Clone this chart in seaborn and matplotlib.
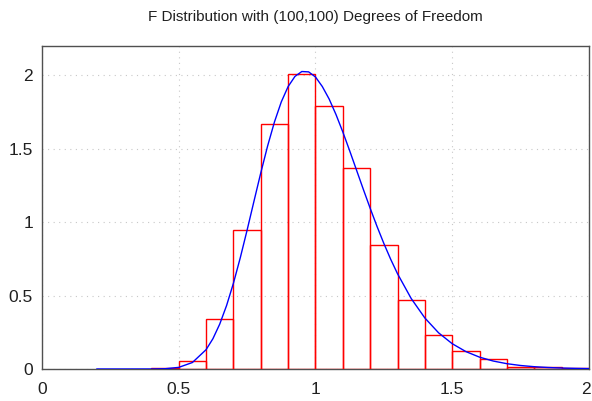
import matplotlib
matplotlib.use("Agg")
import matplotlib.pyplot as plt
import matplotlib.ticker as mticker
import matplotlib.transforms as mtransforms
from matplotlib import font_manager
import seaborn as sns
import pandas as pd

# Histogram bins (left edges) and heights (density)
bin_left = [0.4, 0.5, 0.6, 0.7, 0.8, 0.9, 1.0, 1.1, 1.2, 1.3, 1.4, 1.5, 1.6, 1.7, 1.8, 1.9]
bin_height = [0.004, 0.053, 0.342, 0.950, 1.671, 2.012, 1.794, 1.369, 0.848, 0.473,
              0.232, 0.125, 0.066, 0.016, 0.012, 0.005]
bin_width = 0.1

# Density curve samples
curve_x = [0.2, 0.3, 0.4, 0.45, 0.5, 0.55, 0.6, 0.625, 0.65, 0.675, 0.7, 0.725, 0.75,
           0.775, 0.8, 0.825, 0.85, 0.875, 0.9, 0.925, 0.95, 0.975, 1.0, 1.025, 1.05,
           1.075, 1.1, 1.125, 1.15, 1.175, 1.2, 1.225, 1.25, 1.275, 1.3, 1.35, 1.4,
           1.45, 1.5, 1.55, 1.6, 1.65, 1.7, 1.75, 1.8, 1.85, 1.9, 1.95, 2.0]
curve_y = [0.0, 0.0000002, 0.000195, 0.00187, 0.01103, 0.0443, 0.1316, 0.2063, 0.3063,
           0.4327, 0.5844, 0.7576, 0.9462, 1.1423, 1.3364, 1.5197, 1.6832, 1.8199,
           1.9245, 1.9937, 2.0268, 2.0245, 1.9897, 1.9246, 1.8394, 1.7339, 1.6148,
           1.4872, 1.3556, 1.2238, 1.0950, 0.9715, 0.8553, 0.7476, 0.6490, 0.4802,
           0.3475, 0.2467, 0.1723, 0.1186, 0.0806, 0.0542, 0.0361, 0.02385, 0.01565,
           0.0102, 0.00662, 0.00428, 0.00276]

title = "F Distribution with (100,100) Degrees of Freedom"
x_ticks = [0, 0.5, 1, 1.5, 2]
y_ticks = [0, 0.5, 1, 1.5, 2]

sns.set_style("white")
plt.rcParams['font.family'] = ['Liberation Sans', 'DejaVu Sans']

fig = plt.figure(figsize=(5.92, 4.01), dpi=100)
ax = fig.add_axes([0.0709, 0.0798, 0.9240, 0.8052])

edges = bin_left + [bin_left[-1] + bin_width]
centers = [b + bin_width / 2 for b in bin_left]
hist_df = pd.DataFrame({"x": centers, "h": bin_height})
sns.histplot(data=hist_df, x="x", weights="h", bins=edges, stat="count",
             fill=False, color="#ff0000", linewidth=1.0, ax=ax, zorder=3)

curve_df = pd.DataFrame({"x": curve_x, "y": curve_y})
sns.lineplot(data=curve_df, x="x", y="y", color="#0000ff", linewidth=1.0,
             ax=ax, zorder=4, sort=True)

ax.set_xlim(0, 2)
ax.set_ylim(0, 2.2)
ax.set_xticks(x_ticks)
ax.set_yticks(y_ticks)
fmt = mticker.FormatStrFormatter("%g")
ax.xaxis.set_major_formatter(fmt)
ax.yaxis.set_major_formatter(fmt)
ax.set_xlabel("")
ax.set_ylabel("")
ax.grid(True, color="#c8c8c8", linestyle=(0, (1, 4)), linewidth=0.8, zorder=0)
ax.set_axisbelow(True)
for s in ax.spines.values():
    s.set_color("#505050")
    s.set_linewidth(1.0)
ax.tick_params(axis="both", direction="in", length=4, width=0.8, color="#303030",
               labelsize=12.5, labelcolor="#202020")
ax.tick_params(axis="x", pad=9.5)
ax.tick_params(axis="y", pad=6.5)
ax.set_title(title, fontsize=11, color="#202020", pad=18)

# nudge the last x tick label so it stays inside the canvas
fig.canvas.draw()
last = ax.get_xticklabels()[-1]
last.set_transform(last.get_transform() +
                   mtransforms.ScaledTranslation(-3 / 100, 0, fig.dpi_scale_trans))

fig.savefig("out.png", dpi=100)
